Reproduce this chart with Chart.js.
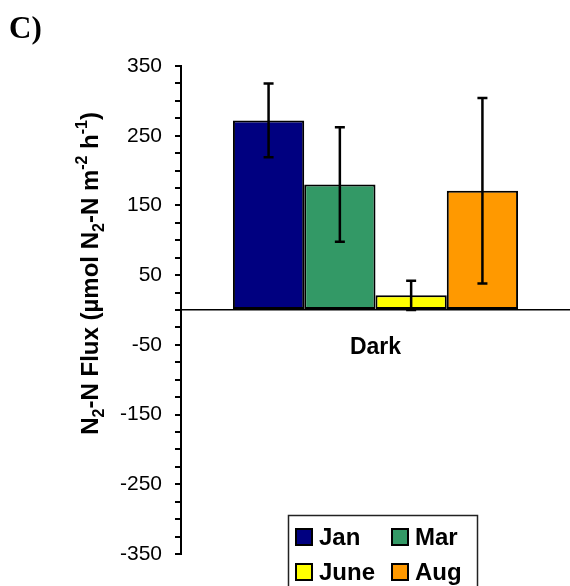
<!DOCTYPE html>
<html>
<head>
<meta charset="utf-8">
<script src="https://cdn.jsdelivr.net/npm/chart.js@4"></script>
<style>
  html, body { margin: 0; padding: 0; background: #ffffff; }
  #wrap { position: relative; width: 570px; height: 586px; }
</style>
</head>
<body>
<div id="wrap"><canvas id="c" width="570" height="586"></canvas></div>
<script>
// Light condition on the category axis
const categories = ['Dark'];
// Sampling months (one bar each)
const months = ['Jan', 'Mar', 'June', 'Aug'];
// Mean N2-N flux, µmol N2-N m-2 h-1
const flux = [272, 180, 21, 171];
// Error bar half-lengths
const fluxErr = [53, 82, 21, 133];
const monthColors = ['#000080', '#339966', '#FFFF00', '#FF9900'];
// Labelled values on the y axis (minor ticks every 25)
const yTickLabels = [350, 250, 150, 50, -50, -150, -250, -350];

const SANS = '"Liberation Sans", Arial, Helvetica, sans-serif';
const SERIF = '"Liberation Serif", "Times New Roman", serif';

// Whisker for each bar: mean ± error, with short caps
const errorBars = {
  id: 'errorBars',
  afterDatasetsDraw(chart) {
    const ctx = chart.ctx;
    const y = chart.scales.y;
    ctx.save();
    ctx.strokeStyle = '#000';
    ctx.lineWidth = 2.5;
    chart.data.datasets.forEach((ds, i) => {
      const meta = chart.getDatasetMeta(i);
      meta.data.forEach((bar, j) => {
        const v = ds.data[j];
        const e = ds.err[j];
        const yTop = y.getPixelForValue(v + e);
        const yBot = y.getPixelForValue(v - e);
        const x = bar.x;
        const cap = 5;
        ctx.beginPath();
        ctx.moveTo(x, yTop); ctx.lineTo(x, yBot);
        ctx.moveTo(x - cap, yTop); ctx.lineTo(x + cap, yTop);
        ctx.moveTo(x - cap, yBot); ctx.lineTo(x + cap, yBot);
        ctx.stroke();
      });
    });
    ctx.restore();
  }
};

// Rotated y-axis title with sub- and superscripts
const yTitle = {
  id: 'yTitle',
  afterDraw(chart) {
    const ctx = chart.ctx;
    const fs = 24;
    const parts = [
      ['N', 'n'], ['2', 'sub'], ['-N Flux (µmol N', 'n'], ['2', 'sub'],
      ['-N m', 'n'], ['-2', 'sup'], [' h', 'n'], ['-1', 'sup'], [')', 'n']
    ];
    const fontFor = k => 'bold ' + (k === 'n' ? fs : Math.round(fs * 0.65)) + 'px ' + SANS;
    let total = 0;
    parts.forEach(([t, k]) => { ctx.font = fontFor(k); total += ctx.measureText(t).width; });
    const topEdge = 112;
    ctx.save();
    ctx.translate(89, topEdge + total);
    ctx.rotate(-Math.PI / 2);
    ctx.fillStyle = '#000';
    ctx.textBaseline = 'alphabetic';
    let x = 0;
    const base = fs * 0.36;
    parts.forEach(([t, k]) => {
      ctx.font = fontFor(k);
      const dy = k === 'sub' ? fs * 0.25 : (k === 'sup' ? -fs * 0.45 : 0);
      ctx.fillText(t, x, base + dy);
      x += ctx.measureText(t).width;
    });
    ctx.restore();
  }
};

// Panel letter in the top-left corner
const panelLabel = {
  id: 'panelLabel',
  afterDraw(chart) {
    const ctx = chart.ctx;
    ctx.save();
    ctx.font = 'bold 31px ' + SERIF;
    ctx.fillStyle = '#000';
    ctx.textBaseline = 'alphabetic';
    ctx.fillText('C)', 9, 38);
    ctx.restore();
  }
};

// Framed two-column legend inside the plot
const boxLegend = {
  id: 'boxLegend',
  afterDraw(chart) {
    const ctx = chart.ctx;
    const left = 288, top = 515, right = 477, bottom = 600;
    ctx.save();
    ctx.fillStyle = '#fff';
    ctx.fillRect(left, top, right - left, bottom - top);
    ctx.strokeStyle = '#222';
    ctx.lineWidth = 1.5;
    ctx.strokeRect(left + 0.5, top + 0.5, right - left, bottom - top);
    ctx.font = 'bold 24px ' + SANS;
    ctx.textBaseline = 'middle';
    const cols = [296, 392];
    const rows = [537, 572];
    chart.data.datasets.forEach((ds, i) => {
      const cx = cols[i % 2];
      const cy = rows[Math.floor(i / 2)];
      ctx.fillStyle = ds.backgroundColor;
      ctx.fillRect(cx, cy - 8, 16, 16);
      ctx.strokeStyle = '#000';
      ctx.lineWidth = 2;
      ctx.strokeRect(cx, cy - 8, 16, 16);
      ctx.fillStyle = '#000';
      ctx.fillText(ds.label, cx + 23, cy + 1);
    });
    ctx.restore();
  }
};

new Chart(document.getElementById('c'), {
  type: 'bar',
  data: {
    labels: categories,
    datasets: months.map((m, i) => ({
      label: m,
      data: [flux[i]],
      err: [fluxErr[i]],
      backgroundColor: monthColors[i],
      borderColor: '#000',
      borderWidth: 2,
      borderSkipped: false,
      barPercentage: 1,
      categoryPercentage: 0.733
    }))
  },
  options: {
    responsive: false,
    animation: false,
    devicePixelRatio: 1,
    layout: { padding: { left: 0, right: 0, top: 66, bottom: 32 } },
    plugins: { legend: { display: false }, tooltip: { enabled: false } },
    scales: {
      x: {
        position: { y: 0 },
        grid: { display: false },
        border: { display: true, color: '#000', width: 1.5 },
        ticks: { color: '#000', font: { family: SANS, size: 23, weight: 'bold' }, padding: 16 }
      },
      y: {
        min: -350,
        max: 350,
        afterFit(scale) { scale.width = 181; },
        grid: { display: true, drawOnChartArea: false, drawTicks: true, tickLength: 6, color: '#000', lineWidth: 2 },
        border: { display: true, color: '#000', width: 2 },
        ticks: {
          stepSize: 25,
          autoSkip: false,
          padding: 13,
          color: '#000',
          font: { family: SANS, size: 21 },
          callback: v => (yTickLabels.includes(v) ? String(v) : '')
        }
      }
    }
  },
  plugins: [errorBars, yTitle, panelLabel, boxLegend]
});
</script>
</body>
</html>
